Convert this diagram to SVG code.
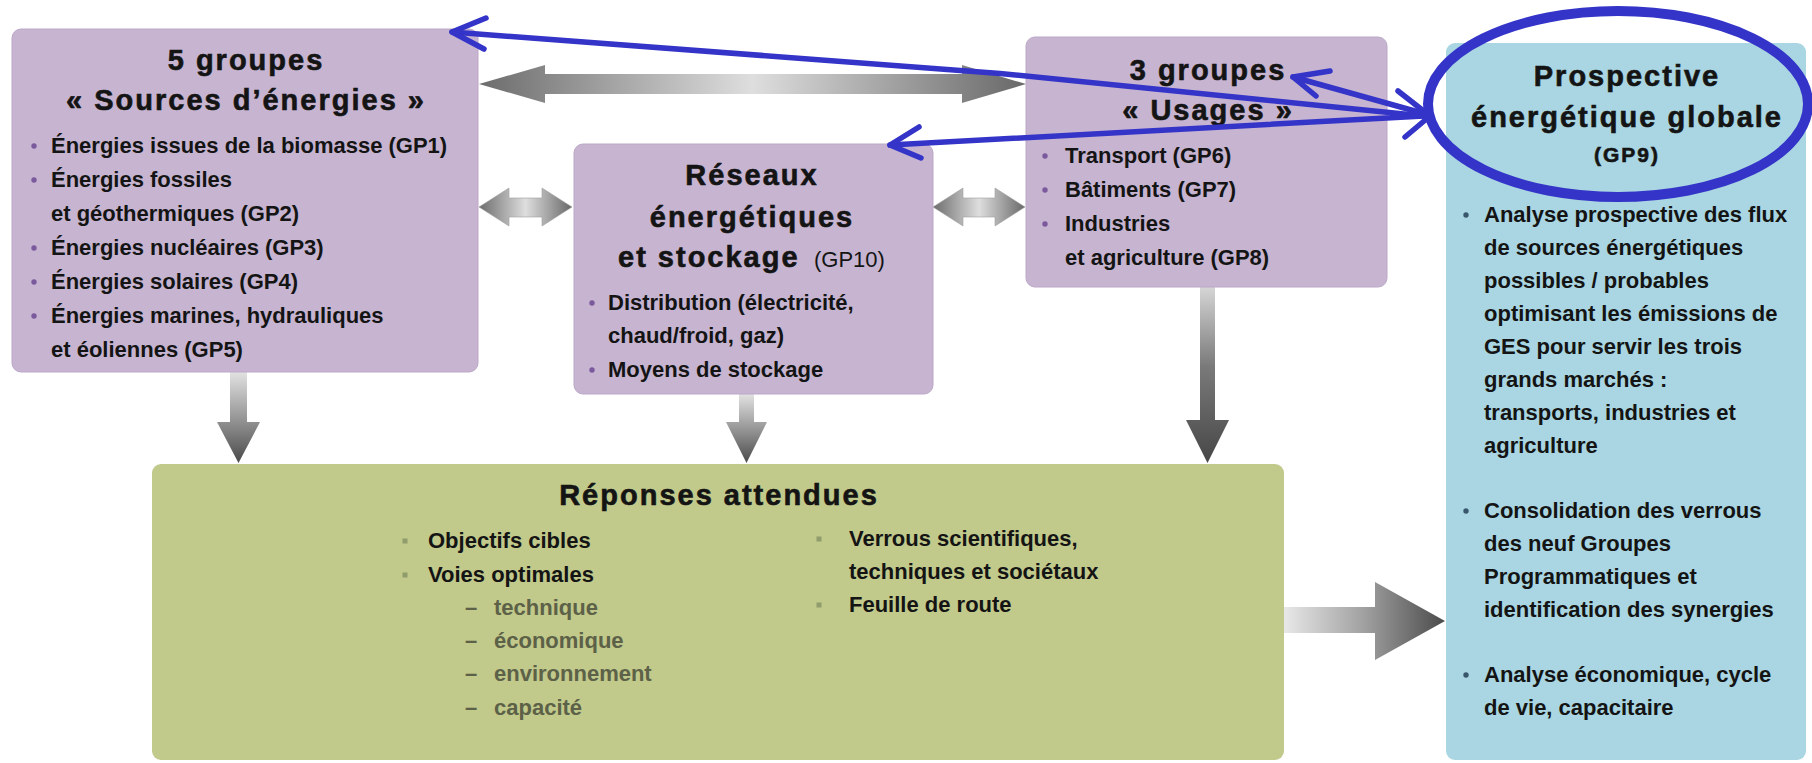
<svg xmlns="http://www.w3.org/2000/svg" width="1812" height="763" viewBox="0 0 1812 763">
<style>
text{font-family:"Liberation Sans",Arial,sans-serif;font-weight:bold;fill:#141414}
.ttl{font-size:29px;letter-spacing:2px;text-anchor:middle;stroke:#141414;stroke-width:0.6}
.b{font-size:22px}
.sub{font-size:22px;fill:#5c6147}
.pbox{fill:#c6b4d1;stroke:#bba8c7;stroke-width:1}
.pdot{fill:#7a5a9c}
.gdot{fill:#8f9c6b}
.bdot{fill:#3a566c}
.ann{fill:none;stroke:#3434c8;stroke-width:5.5;stroke-linecap:round;stroke-linejoin:round}
</style>
<defs>
<linearGradient id="gH" x1="0" y1="0" x2="1" y2="0">
<stop offset="0" stop-color="#6c6c6c"/><stop offset="0.5" stop-color="#dedede"/><stop offset="1" stop-color="#686868"/>
</linearGradient>
<linearGradient id="gDown" x1="0" y1="0" x2="0" y2="1">
<stop offset="0" stop-color="#e2e2e2"/><stop offset="0.55" stop-color="#909090"/><stop offset="1" stop-color="#4a4a4a"/>
</linearGradient>
<linearGradient id="gDown2" x1="0" y1="0" x2="0" y2="1">
<stop offset="0" stop-color="#d6d6d6"/><stop offset="0.45" stop-color="#7a7a7a"/><stop offset="1" stop-color="#474747"/>
</linearGradient>
<linearGradient id="gRight" x1="0" y1="0" x2="1" y2="0">
<stop offset="0" stop-color="#e8e8e8"/><stop offset="0.5" stop-color="#a0a0a0"/><stop offset="1" stop-color="#4b4b4b"/>
</linearGradient>
</defs>

<g id="connectors">
<polygon fill="url(#gH)" points="479,84 545,65 545,74 962,74 962,65 1026,84 962,103 962,94 545,94 545,103"/>
<polygon fill="url(#gH)" stroke="#a0a0a0" stroke-width="0.6" points="479,207 509,188 509,198 542,198 542,188 572,207 542,226 542,217 509,217 509,226"/>
<polygon fill="url(#gH)" stroke="#a0a0a0" stroke-width="0.6" points="933,207 963,188 963,198 995,198 995,188 1025,207 995,226 995,217 963,217 963,226"/>
<polygon fill="url(#gDown)" points="230,372 247,372 247,422 260,422 238.5,463 217,422 230,422"/>
<polygon fill="url(#gDown)" points="739,394 754,394 754,422 767,422 746.5,463 726,422 739,422"/>
<polygon fill="url(#gDown2)" points="1200,287 1215,287 1215,420 1229,420 1207.5,463 1186,420 1200,420"/>
<polygon fill="url(#gRight)" points="1284,607 1375,607 1375,582 1445,621 1375,660 1375,633 1284,633"/>
</g>

<g id="sources">
<rect class="pbox" x="12" y="29" width="466" height="343" rx="9"/>
<text class="ttl" x="246" y="70">5 groupes</text>
<text class="ttl" x="246" y="110">« Sources d’énergies »</text>
<circle class="pdot" cx="34" cy="146" r="2.7"/>
<circle class="pdot" cx="34" cy="180" r="2.7"/>
<circle class="pdot" cx="34" cy="248" r="2.7"/>
<circle class="pdot" cx="34" cy="282" r="2.7"/>
<circle class="pdot" cx="34" cy="316" r="2.7"/>
<text class="b" x="51" y="153">Énergies issues de la biomasse (GP1)</text>
<text class="b" x="51" y="187">Énergies fossiles</text>
<text class="b" x="51" y="221">et géothermiques (GP2)</text>
<text class="b" x="51" y="255">Énergies nucléaires (GP3)</text>
<text class="b" x="51" y="289">Énergies solaires (GP4)</text>
<text class="b" x="51" y="323">Énergies marines, hydrauliques</text>
<text class="b" x="51" y="357">et éoliennes (GP5)</text>
</g>

<g id="reseaux">
<rect class="pbox" x="574" y="144" width="359" height="250" rx="9"/>
<text class="ttl" x="752" y="185">Réseaux</text>
<text class="ttl" x="752" y="227">énergétiques</text>
<text class="ttl" x="618" y="267" style="text-anchor:start">et stockage</text>
<text x="814" y="267" style="font-size:22px;font-weight:normal">(GP10)</text>
<circle class="pdot" cx="592" cy="303" r="2.7"/>
<circle class="pdot" cx="592" cy="370" r="2.7"/>
<text class="b" x="608" y="310">Distribution (électricité,</text>
<text class="b" x="608" y="343">chaud/froid, gaz)</text>
<text class="b" x="608" y="377">Moyens de stockage</text>
</g>

<g id="usages">
<rect class="pbox" x="1026" y="37" width="361" height="250" rx="9"/>
<text class="ttl" x="1208" y="80">3 groupes</text>
<text class="ttl" x="1208" y="120">« Usages »</text>
<circle class="pdot" cx="1045" cy="156" r="2.7"/>
<circle class="pdot" cx="1045" cy="190" r="2.7"/>
<circle class="pdot" cx="1045" cy="224" r="2.7"/>
<text class="b" x="1065" y="163">Transport (GP6)</text>
<text class="b" x="1065" y="197">Bâtiments (GP7)</text>
<text class="b" x="1065" y="231">Industries</text>
<text class="b" x="1065" y="265">et agriculture (GP8)</text>
</g>

<g id="prospective">
<rect x="1446" y="43" width="360" height="717" rx="9" fill="#a9d6e2"/>
<text class="ttl" x="1627" y="86">Prospective</text>
<text class="ttl" x="1627" y="127">énergétique globale</text>
<text class="ttl" x="1627" y="162" style="font-size:21px;letter-spacing:2px">(GP9)</text>
<circle class="bdot" cx="1466" cy="215" r="2.7"/>
<circle class="bdot" cx="1466" cy="511" r="2.7"/>
<circle class="bdot" cx="1466" cy="675" r="2.7"/>
<text class="b" x="1484" y="222">Analyse prospective des flux</text>
<text class="b" x="1484" y="255">de sources énergétiques</text>
<text class="b" x="1484" y="288">possibles / probables</text>
<text class="b" x="1484" y="321">optimisant les émissions de</text>
<text class="b" x="1484" y="354">GES pour servir les trois</text>
<text class="b" x="1484" y="387">grands marchés :</text>
<text class="b" x="1484" y="420">transports, industries et</text>
<text class="b" x="1484" y="453">agriculture</text>
<text class="b" x="1484" y="518">Consolidation des verrous</text>
<text class="b" x="1484" y="551">des neuf Groupes</text>
<text class="b" x="1484" y="584">Programmatiques et</text>
<text class="b" x="1484" y="617">identification des synergies</text>
<text class="b" x="1484" y="682">Analyse économique, cycle</text>
<text class="b" x="1484" y="715">de vie, capacitaire</text>
</g>

<g id="reponses">
<rect x="152" y="464" width="1132" height="296" rx="9" fill="#c1c98b"/>
<text class="ttl" x="719" y="505">Réponses attendues</text>
<rect class="gdot" x="402.5" y="538.5" width="5" height="5"/>
<rect class="gdot" x="402.5" y="572.5" width="5" height="5"/>
<text class="b" x="428" y="548">Objectifs cibles</text>
<text class="b" x="428" y="582">Voies optimales</text>
<text class="sub" x="465" y="615">–</text><text class="sub" x="494" y="615">technique</text>
<text class="sub" x="465" y="648">–</text><text class="sub" x="494" y="648">économique</text>
<text class="sub" x="465" y="681">–</text><text class="sub" x="494" y="681">environnement</text>
<text class="sub" x="465" y="715">–</text><text class="sub" x="494" y="715">capacité</text>
<rect class="gdot" x="816.5" y="536.5" width="5" height="5"/>
<rect class="gdot" x="816.5" y="602.5" width="5" height="5"/>
<text class="b" x="849" y="546">Verrous scientifiques,</text>
<text class="b" x="849" y="579">techniques et sociétaux</text>
<text class="b" x="849" y="612">Feuille de route</text>
</g>

<g id="annotation">
<ellipse class="ann" cx="1618" cy="104" rx="190" ry="93" style="stroke-width:10"/>
<path class="ann" d="M452,32 L1000,73.5 L1424,116"/>
<path class="ann" d="M486,18 L452,32 L484,49"/>
<path class="ann" d="M890,145 L1424,116"/>
<path class="ann" d="M919,127 L890,145 L921,158"/>
<path class="ann" d="M1293,77 L1422,113"/>
<path class="ann" d="M1330,71 L1293,77 L1316,96"/>
<path class="ann" d="M1398,91 L1430,116 L1405,137"/>
</g>
</svg>
